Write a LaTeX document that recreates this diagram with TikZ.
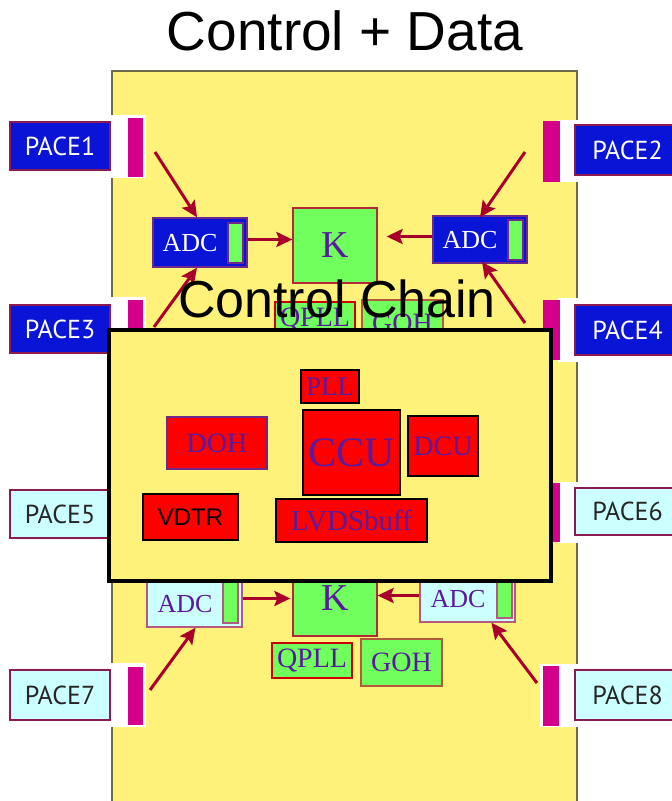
\documentclass[tikz,border=0pt]{standalone}
\usepackage{fontspec}
\setmainfont{Liberation Serif}
\newfontfamily\titlefont{Liberation Sans}
\newfontfamily\pacefont{PT Sans}
\usetikzlibrary{arrows.meta,calc}
\definecolor{board}{HTML}{FFF27A}
\definecolor{boardedge}{HTML}{6E6A4A}
\definecolor{pblue}{HTML}{0A14D6}
\definecolor{pcyan}{HTML}{CCFFFF}
\definecolor{pmag}{HTML}{D4008C}
\definecolor{paceedge}{HTML}{8C1A50}
\definecolor{pgreen}{HTML}{70FF5C}
\definecolor{kedge}{HTML}{B42838}
\definecolor{adcedge}{HTML}{6E288C}
\definecolor{adcedgelt}{HTML}{B45A82}
\definecolor{arrowred}{HTML}{A8002A}
\definecolor{ptext}{HTML}{5A1AA0}
\definecolor{gohedge}{HTML}{B45A3C}
\tikzset{
  pacebox/.style={draw=paceedge, line width=1.5pt, inner sep=0pt, font=\pacefont\fontsize{26}{26}\selectfont},
  pacedark/.style={pacebox, fill=pblue, text=white},
  pacelight/.style={pacebox, fill=pcyan, text=black!85},
  gapbox/.style={fill=white, draw=none, inner sep=0pt},
  barbox/.style={fill=pmag, draw=none, inner sep=0pt},
  adcbox/.style={line width=1.5pt, inner sep=0pt},
  adcdark/.style={adcbox, draw=adcedge, fill=pblue},
  adclight/.style={adcbox, draw=adcedgelt, fill=pcyan},
  adctxt/.style={inner sep=0pt, font=\fontsize{26}{26}\selectfont},
  insetbox/.style={fill=pgreen, draw=adcedge, line width=1.2pt, inner sep=0pt, minimum width=15pt},
  kbox/.style={fill=pgreen, draw=kedge, line width=1.3pt, inner sep=0pt, minimum width=84pt, minimum height=75pt, text=ptext, font=\fontsize{38}{38}\selectfont},
  gbox/.style={fill=pgreen, line width=1.3pt, inner sep=0pt, text=ptext, font=\fontsize{28}{28}\selectfont},
  redbox/.style={fill=red, draw=black, line width=1.5pt, inner sep=0pt, text=ptext},
  arr/.style={draw=arrowred, line width=3pt, -{Stealth[length=16pt,width=15pt,inset=3pt]}},
}
\begin{document}
\begin{tikzpicture}[x=1pt,y=-1pt]
\useasboundingbox[fill=white] (0,0) rectangle (672,801);
% title
\node[anchor=base, inner sep=0pt, font=\titlefont\fontsize{55}{55}\selectfont] (title) at (345,50) {Control + Data};
% board
\node[fill=board, draw=boardedge, line width=1.5pt, inner sep=0pt, minimum width=465pt, minimum height=740pt, anchor=north west] (board) at (111,70) {};
% white gaps
\node[gapbox, minimum width=36pt, minimum height=63pt] (gapL1) at (127.5,146.5) {};
\node[gapbox, minimum width=36pt, minimum height=63pt] (gapL3) at (127.5,328.5) {};
\node[gapbox, minimum width=36pt, minimum height=64pt] (gapL7) at (127.5,695) {};
\node[gapbox, minimum width=21pt, minimum height=62pt] (gapR2) at (568,151) {};
\node[gapbox, minimum width=21pt, minimum height=64pt] (gapR4) at (568,330) {};
\node[gapbox, minimum width=21pt, minimum height=61pt] (gapR6) at (568,512.5) {};
\node[gapbox, minimum width=38pt, minimum height=63pt] (gapR8) at (559,695.5) {};
% magenta bars
\node[barbox, minimum width=15pt, minimum height=59pt] (barL1) at (135.5,147.5) {};
\node[barbox, minimum width=15pt, minimum height=58pt] (barL3) at (135.5,329) {};
\node[barbox, minimum width=15pt, minimum height=58pt] (barL7) at (135.5,696) {};
\node[barbox, minimum width=17pt, minimum height=61pt] (barR2) at (551.5,151.5) {};
\node[barbox, minimum width=17pt, minimum height=60pt] (barR4) at (551.5,330) {};
\node[barbox, minimum width=17pt, minimum height=59pt] (barR6) at (551.5,512.5) {};
\node[barbox, minimum width=16pt, minimum height=60pt] (barR8) at (551,696) {};
% PACE boxes
\node[pacedark, minimum width=100pt, minimum height=48pt] (pace1) at (60,146) {PACE1};
\node[pacedark, minimum width=105pt, minimum height=50pt] (pace2) at (627.5,150) {PACE2};
\node[pacedark, minimum width=100pt, minimum height=48pt] (pace3) at (60,329) {PACE3};
\node[pacedark, minimum width=105pt, minimum height=50pt] (pace4) at (627.5,330) {PACE4};
\node[pacelight, minimum width=100pt, minimum height=48pt] (pace5) at (60,514) {PACE5};
\node[pacelight, minimum width=105pt, minimum height=47pt] (pace6) at (627.5,511.5) {PACE6};
\node[pacelight, minimum width=100pt, minimum height=50pt] (pace7) at (60,695) {PACE7};
\node[pacelight, minimum width=105pt, minimum height=50pt] (pace8) at (627.5,695) {PACE8};
% ADCs
\node[adcdark, minimum width=94pt, minimum height=49pt] (adc1) at (200,242.5) {};
\node[adctxt, text=white] (adc1t) at (190,243) {ADC};
\node[insetbox, minimum height=40pt] (adc1i) at (235.5,243) {};
\node[adcdark, minimum width=94pt, minimum height=47pt] (adc2) at (480,239.5) {};
\node[adctxt, text=white] (adc2t) at (470,240) {ADC};
\node[insetbox, minimum height=40pt] (adc2i) at (515.5,240) {};
\node[adclight, minimum width=95pt, minimum height=49pt] (adc3) at (194.5,602.5) {};
\node[adctxt, text=ptext] (adc3t) at (185,604) {ADC};
\node[insetbox, draw=adcedgelt, minimum height=41pt] (adc3i) at (230.5,602.5) {};
\node[adclight, minimum width=95pt, minimum height=47pt] (adc4) at (467.5,598.5) {};
\node[adctxt, text=ptext] (adc4t) at (458,599) {ADC};
\node[insetbox, draw=adcedgelt, minimum height=38pt] (adc4i) at (504.5,599) {};
% K, QPLL, GOH
\node[kbox] (k1) at (335,245.5) {K};
\node[kbox] (k2) at (335,598.5) {K};
\node[gbox, draw=red!80!black, minimum width=80pt, minimum height=35pt] (qpll1) at (315,319.5) {QPLL};
\node[gbox, draw=gohedge, minimum width=81pt, minimum height=47pt] (goh1) at (402.5,323.5) {GOH};
\node[gbox, draw=red!80!black, minimum width=80pt, minimum height=35pt] (qpll2) at (312,660.5) {QPLL};
\node[gbox, draw=gohedge, minimum width=81pt, minimum height=47pt] (goh2) at (401.5,662.5) {GOH};
% arrows
\coordinate (s1) at (155,152);
\coordinate (s2) at (525,152);
\coordinate (s3) at (154,327);
\coordinate (s4) at (525,323);
\coordinate (s7) at (150,690);
\coordinate (s8) at (537,683);
\draw[arr] (s1) -- ([xshift=-3pt]adc1.north);
\draw[arr] (s3) -- ([xshift=-3pt]adc1.south);
\draw[arr] ([yshift=3pt]adc1.east) -- ([yshift=3pt]adc1.east -| k1.west);
\draw[arr] (s2) -- ([xshift=0pt,yshift=-2pt]adc2.north);
\draw[arr] (s4) -- ([xshift=2pt,yshift=2pt]adc2.south);
\draw[arr, shorten >=9pt] ([yshift=3pt]adc2.west) -- ([yshift=3pt]adc2.west -| k1.east);
\draw[arr] (s7) -- ([xshift=1pt]adc3.south);
\draw[arr, shorten >=2pt] ([yshift=4pt]adc3.east) -- ([yshift=4pt]adc3.east -| k2.west);
\draw[arr] (s8) -- ([xshift=24pt]adc4.south);
\draw[arr] ([yshift=3pt]adc4.west) -- ([yshift=3pt]adc4.west -| k2.east);
% control chain box
\node[fill=board, draw=black, line width=4pt, inner sep=0pt, minimum width=442pt, minimum height=251pt] (chain) at (330,455.5) {};
\node[anchor=base, inner sep=0pt, font=\titlefont\fontsize{52}{52}\selectfont] (chaintitle) at (337,317) {Control Chain};
\node[redbox, minimum width=58pt, minimum height=33pt, font=\fontsize{27}{27}\selectfont] (pll) at (330,386.5) {PLL};
\node[redbox, minimum width=97pt, minimum height=85pt, font=\fontsize{42}{42}\selectfont] (ccu) at (351.5,452.5) {CCU};
\node[redbox, minimum width=70pt, minimum height=60pt, font=\fontsize{28}{28}\selectfont] (dcu) at (443,446) {DCU};
\node[redbox, draw=adcedge, minimum width=100pt, minimum height=52pt, font=\fontsize{28}{28}\selectfont] (doh) at (217,443) {DOH};
\node[redbox, text=black, minimum width=95pt, minimum height=46pt, font=\titlefont\fontsize{24}{24}\selectfont] (vdtr) at (190.5,517) {VDTR};
\node[redbox, minimum width=151pt, minimum height=43pt, font=\fontsize{29}{29}\selectfont] (lvds) at (351.5,520.5) {LVDSbuff};
\end{tikzpicture}
\end{document}
